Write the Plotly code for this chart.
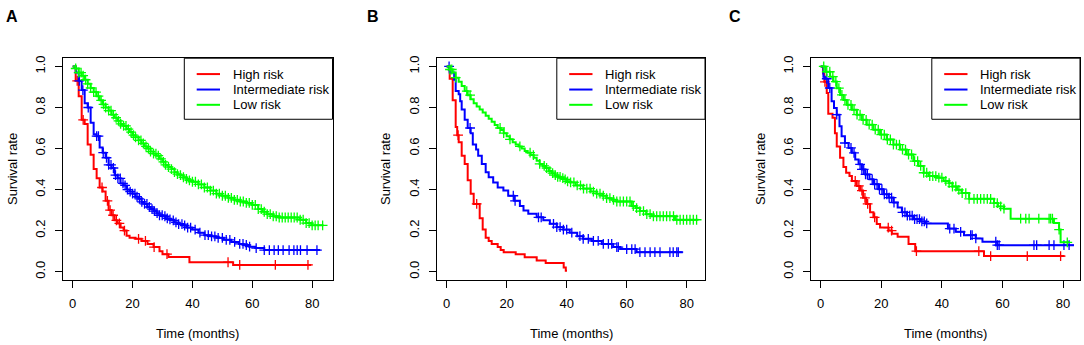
import bisect
import plotly.graph_objects as go

W, H = 1084, 345
FONT = "Liberation Sans, Arial, sans-serif"

panel_letters = ["A", "B", "C"]
series_names = ["High risk", "Intermediate risk", "Low risk"]
series_colors = ["#FF0000", "#0000FF", "#00FF00"]
x_ticks = [0, 20, 40, 60, 80]
y_ticks = [0.0, 0.2, 0.4, 0.6, 0.8, 1.0]
x_title = "Time (months)"
y_title = "Survival rate"

# ---------------- Panel A ----------------
A_high_t = [0, 1, 2, 3, 4, 5, 6, 7, 8, 9, 10, 11, 12, 13, 14, 15, 16, 17, 18, 19, 21, 23, 25, 27, 29, 30, 32, 39, 53.6, 79.7]
A_high_s = [1.0, 0.93, 0.855, 0.74, 0.72, 0.62, 0.57, 0.50, 0.455, 0.41, 0.39, 0.345, 0.30, 0.275, 0.25, 0.235, 0.215, 0.20, 0.175, 0.165, 0.16, 0.15, 0.135, 0.12, 0.10, 0.085, 0.071, 0.046, 0.033, 0.033]
A_high_c = [1.5, 3.5, 9.8, 11.6, 12.5, 13.5, 14.6, 15.6, 17.3, 22, 24.3, 27.2, 31.5, 51.9, 55.8, 67.7, 78.6]

A_mid_t = [0, 1, 2, 3, 4, 5, 6, 7, 8, 9, 10, 11, 12, 13, 14, 15, 16, 17, 18, 19, 20, 21, 22, 23, 24, 25, 26, 27, 28, 29, 30, 31, 32, 33, 34, 35, 37, 38, 40, 42, 44, 46, 48, 50.5, 53, 55.5, 57, 59, 61, 64, 82.7]
A_mid_s = [1.0, 0.97, 0.93, 0.885, 0.82, 0.80, 0.725, 0.67, 0.66, 0.605, 0.58, 0.555, 0.52, 0.505, 0.47, 0.455, 0.43, 0.42, 0.40, 0.39, 0.38, 0.365, 0.355, 0.34, 0.33, 0.315, 0.305, 0.295, 0.285, 0.275, 0.27, 0.26, 0.255, 0.25, 0.24, 0.232, 0.225, 0.215, 0.205, 0.19, 0.178, 0.172, 0.165, 0.155, 0.145, 0.135, 0.13, 0.122, 0.115, 0.105, 0.105]
A_mid_c = [2.2, 3.4, 5.2, 8.0, 8.6, 10.2, 11.3, 12.0, 12.8, 13.6, 14.3, 15.1, 15.9, 16.8, 17.5, 18.3, 19.2, 20.0, 20.8, 21.5, 22.3, 23.1, 24.0, 24.8, 25.6, 26.5, 27.3, 28.2, 29.0, 29.9, 30.8, 31.6, 32.5, 33.6, 34.5, 35.4, 36.5, 37.4, 38.4, 39.4, 40.9, 42.5, 44.2, 45.3, 46.4, 47.5, 48.6, 50.0, 51.3, 52.5, 54.1, 55.8, 56.9, 58.0, 59.1, 61.3, 64.0, 65.7, 67.3, 68.7, 70.3, 72.3, 73.9, 75.0, 76.1, 78.3, 81.6]

A_low_t = [0, 1, 2, 3, 4, 5, 6, 7, 8, 9, 10, 11, 12, 13, 14, 15, 16, 17, 18, 19, 20, 21, 22, 23, 24, 25, 26, 27, 28, 29, 30, 31, 32, 33, 34, 35, 36, 37, 38, 39, 40, 42, 44, 46, 48, 50, 52, 54, 56, 58, 60, 62, 63.5, 65, 67, 69, 76, 78, 79.7, 83.8]
A_low_s = [1.0, 0.99, 0.97, 0.955, 0.935, 0.915, 0.895, 0.875, 0.855, 0.835, 0.815, 0.80, 0.785, 0.765, 0.75, 0.735, 0.72, 0.71, 0.695, 0.68, 0.665, 0.655, 0.64, 0.625, 0.61, 0.60, 0.585, 0.575, 0.565, 0.55, 0.535, 0.52, 0.51, 0.50, 0.485, 0.475, 0.47, 0.46, 0.452, 0.445, 0.438, 0.425, 0.41, 0.395, 0.38, 0.37, 0.36, 0.35, 0.342, 0.335, 0.325, 0.305, 0.292, 0.28, 0.27, 0.264, 0.253, 0.237, 0.226, 0.226]
A_low_c = [1.0, 2.0, 2.8, 3.5, 4.3, 5.0, 6.0, 7.0, 7.8, 8.6, 9.5, 10.3, 11.0, 12.0, 12.8, 13.6, 14.5, 15.3, 16.0, 17.0, 17.8, 18.6, 19.5, 20.3, 21.0, 22.0, 22.8, 23.6, 24.5, 25.3, 26.0, 27.0, 27.8, 28.6, 29.5, 30.3, 31.0, 32.0, 33.0, 34.0, 35.0, 36.0, 37.0, 38.0, 39.0, 40.0, 41.0, 42.0, 43.0, 44.0, 45.0, 46.0, 47.0, 48.0, 49.0, 50.0, 51.0, 52.0, 53.0, 54.0, 55.0, 56.0, 57.0, 58.0, 59.0, 60.0, 61.0, 62.0, 63.0, 64.0, 65.0, 66.0, 67.0, 68.0, 69.0, 70.0, 71.0, 72.0, 73.0, 74.0, 75.0, 76.0, 77.0, 78.0, 79.0, 80.0, 81.0, 82.0, 83.5]

# ---------------- Panel B ----------------
B_high_t = [0, 1, 2, 3, 3.5, 4, 5, 6, 7, 8, 9, 11, 12, 13, 14, 15, 17, 18, 19, 23, 26, 30, 33, 39, 39.7, 40.1]
B_high_s = [1.0, 0.94, 0.835, 0.705, 0.665, 0.63, 0.565, 0.525, 0.445, 0.38, 0.33, 0.26, 0.205, 0.165, 0.15, 0.135, 0.12, 0.105, 0.095, 0.085, 0.07, 0.055, 0.042, 0.02, 0.005, 0.005]
B_high_c = [3.8, 10.0]

B_mid_t = [0, 1, 2.5, 3, 4, 4.5, 5, 6, 7, 8, 8.7, 9.8, 10.5, 11.7, 13, 14, 15.5, 17, 18.9, 20.5, 22.5, 24.4, 25.6, 27.2, 30, 32.2, 34.4, 36.7, 38.9, 41, 43.5, 45.5, 48.3, 51.7, 55.5, 57.8, 63.3, 78.7]
B_mid_s = [1.0, 0.97, 0.935, 0.88, 0.865, 0.83, 0.79, 0.74, 0.70, 0.675, 0.62, 0.595, 0.565, 0.525, 0.485, 0.46, 0.435, 0.41, 0.395, 0.37, 0.345, 0.32, 0.298, 0.282, 0.265, 0.25, 0.233, 0.217, 0.205, 0.19, 0.173, 0.16, 0.15, 0.135, 0.12, 0.11, 0.095, 0.095]
B_mid_c = [0.8, 7.8, 22.2, 22.8, 30.6, 31.5, 35.6, 36.7, 37.8, 38.9, 40.0, 41.7, 44.4, 45.5, 47.2, 48.9, 50.5, 52.2, 53.9, 55.0, 56.7, 57.2, 60.0, 61.7, 62.8, 64.4, 66.1, 67.8, 69.4, 71.1, 74.4, 75.5, 76.7, 77.2]

B_low_t = [0, 1, 2, 3, 4, 5, 6, 7, 8, 9, 10, 11, 12, 13, 14, 15, 16, 17, 18, 19, 20, 21, 22, 23, 24, 25, 26, 27, 28, 29, 30, 31, 32, 33, 34, 35, 36, 37, 38, 39, 40, 41.1, 43, 45.5, 48, 50, 52, 53.3, 55, 56.7, 61.7, 63, 64.4, 66.5, 68.3, 76.1, 83.9]
B_low_s = [1.0, 0.985, 0.97, 0.945, 0.925, 0.905, 0.88, 0.86, 0.84, 0.82, 0.805, 0.79, 0.775, 0.76, 0.745, 0.73, 0.715, 0.70, 0.69, 0.675, 0.66, 0.645, 0.63, 0.62, 0.61, 0.60, 0.588, 0.58, 0.568, 0.555, 0.54, 0.525, 0.515, 0.505, 0.49, 0.48, 0.47, 0.462, 0.456, 0.45, 0.44, 0.435, 0.42, 0.405, 0.39, 0.38, 0.37, 0.358, 0.35, 0.342, 0.32, 0.31, 0.295, 0.28, 0.27, 0.253, 0.253]
B_low_c = [1.1, 1.7, 3.0, 6.7, 7.8, 17.8, 19.0, 21.1, 24.4, 27.8, 28.9, 31.0, 32.5, 33.3, 34.4, 35.3, 36.2, 37.0, 37.8, 38.7, 39.5, 40.3, 41.3, 42.4, 43.5, 44.6, 45.6, 46.7, 47.8, 48.9, 50.0, 51.1, 52.2, 53.3, 54.4, 55.6, 56.7, 57.8, 58.9, 60.0, 61.1, 62.2, 63.3, 64.4, 65.6, 66.7, 67.8, 68.9, 70.0, 71.1, 72.2, 73.3, 74.4, 75.6, 76.7, 77.8, 78.9, 80.0, 81.1, 82.2, 83.3]

# ---------------- Panel C ----------------
C_high_t = [0, 0.8, 1.2, 2, 2.5, 3.9, 4.7, 5.3, 6.4, 7.5, 8.4, 9.5, 10.3, 11.9, 13, 14, 15, 16.3, 17.4, 18.5, 19.6, 22.4, 23.5, 25.4, 29, 31.2, 53.9, 80.5]
C_high_s = [1.0, 0.965, 0.925, 0.87, 0.77, 0.75, 0.675, 0.61, 0.555, 0.51, 0.482, 0.466, 0.442, 0.418, 0.395, 0.36, 0.33, 0.29, 0.265, 0.232, 0.215, 0.20, 0.185, 0.17, 0.135, 0.10, 0.076, 0.076]
C_high_c = [1.4, 11.4, 12.6, 13.6, 14.6, 15.5, 17.8, 22.3, 23.4, 31.6, 52.2, 56.1, 68.2, 79.2]

C_mid_t = [0, 0.9, 1.4, 2.5, 3.6, 4.4, 5.3, 6.2, 6.9, 8.0, 9.2, 10.3, 11.4, 12.5, 13.6, 14.7, 16.1, 17.4, 19.1, 20.7, 22.4, 24.0, 25.4, 26.8, 28.4, 30.6, 32.9, 34.5, 42.0, 44.6, 47.3, 51.2, 53.4, 58.3, 83.6]
C_mid_s = [1.0, 0.95, 0.94, 0.895, 0.83, 0.797, 0.765, 0.708, 0.66, 0.627, 0.603, 0.579, 0.547, 0.523, 0.498, 0.474, 0.45, 0.426, 0.402, 0.377, 0.361, 0.337, 0.313, 0.289, 0.273, 0.256, 0.245, 0.235, 0.21, 0.194, 0.178, 0.162, 0.146, 0.129, 0.129]
C_mid_c = [2.0, 3.0, 5.3, 8.0, 10.0, 11.0, 13.0, 13.6, 14.2, 14.8, 15.4, 17.0, 17.8, 18.6, 19.4, 20.2, 21.0, 21.8, 22.6, 23.4, 24.2, 27.0, 27.8, 28.6, 29.4, 30.2, 31.0, 31.8, 32.6, 33.4, 34.2, 35.0, 42.6, 44.0, 46.2, 49.5, 50.0, 51.2, 57.8, 58.3, 58.9, 70.4, 71.3, 75.4, 77.0, 80.3, 82.0]

C_low_t = [0, 1.6, 3.1, 4.2, 5.3, 6.4, 7.5, 8.6, 10.3, 11.9, 13.6, 15.2, 17.4, 19.6, 21.8, 24.0, 26.2, 28.4, 30.6, 32.3, 34.0, 35.6, 38.4, 40.6, 42.4, 43.5, 45.0, 46.5, 49.0, 57.2, 58.5, 60.5, 62.7, 77.0, 78.7, 79.2, 82.0]
C_low_s = [1.0, 0.974, 0.95, 0.926, 0.894, 0.861, 0.837, 0.813, 0.789, 0.765, 0.74, 0.716, 0.692, 0.668, 0.644, 0.619, 0.595, 0.571, 0.539, 0.515, 0.482, 0.466, 0.458, 0.442, 0.431, 0.415, 0.399, 0.383, 0.355, 0.334, 0.318, 0.307, 0.258, 0.237, 0.205, 0.143, 0.143]
C_low_c = [1.0, 2.0, 3.0, 4.0, 5.0, 6.0, 7.0, 8.0, 9.0, 10.0, 11.0, 12.0, 13.0, 14.0, 15.0, 16.0, 17.0, 18.0, 19.0, 20.0, 21.0, 22.0, 23.0, 24.0, 25.0, 26.0, 27.0, 28.0, 29.0, 30.0, 31.0, 32.0, 33.0, 34.0, 35.0, 36.0, 37.0, 38.0, 39.0, 40.0, 41.3, 42.4, 43.5, 44.6, 45.6, 46.7, 47.9, 49.0, 50.6, 51.7, 52.8, 53.9, 55.0, 56.1, 57.2, 58.3, 59.4, 60.5, 66.0, 67.7, 68.8, 72.0, 75.4, 75.9, 76.5, 78.7, 81.4]

panels = [
    [(A_high_t, A_high_s, A_high_c), (A_mid_t, A_mid_s, A_mid_c), (A_low_t, A_low_s, A_low_c)],
    [(B_high_t, B_high_s, B_high_c), (B_mid_t, B_mid_s, B_mid_c), (B_low_t, B_low_s, B_low_c)],
    [(C_high_t, C_high_s, C_high_c), (C_mid_t, C_mid_s, C_mid_c), (C_low_t, C_low_s, C_low_c)],
]

# ---------------- layout geometry (pixels) ----------------
box_left = [62.7, 437.0, 810.7]
box_right = [332.5, 705.0, 1080.0]
x_ranges = [[-3.34, 86.8], [-3.23, 86.1], [-3.3, 85.6]]
box_top, box_bottom = 55.7, 279.3
y_range = [-0.04, 1.04]
ytitle_x = [12, 385, 760]
letter_x = [12, 373, 735]


def px(p):
    return p / W


def py(p):
    return 1 - p / H


def step_value(ts, ss, t):
    i = bisect.bisect_right(ts, t) - 1
    return ss[max(i, 0)]


fig = go.Figure()
layout = dict(
    width=W, height=H, margin=dict(l=0, r=0, t=0, b=0),
    paper_bgcolor="white", plot_bgcolor="white", showlegend=False,
    font=dict(family=FONT, size=13, color="black"),
    shapes=[], annotations=[],
)

for p in range(3):
    sfx = "" if p == 0 else str(p + 1)
    xa, ya = "x" + sfx, "y" + sfx
    for k in range(3):
        ts, ss, cs = panels[p][k]
        col = series_colors[k]
        fig.add_trace(go.Scatter(
            x=ts, y=ss, mode="lines", line=dict(color=col, width=2, shape="hv"),
            xaxis=xa, yaxis=ya, hoverinfo="skip"))
        fig.add_trace(go.Scatter(
            x=cs, y=[step_value(ts, ss, c) for c in cs], mode="markers",
            marker=dict(symbol="cross-thin", size=7, color=col, line=dict(color=col, width=1.3)),
            xaxis=xa, yaxis=ya, hoverinfo="skip"))

    axis_common = dict(showline=True, linecolor="black", linewidth=1, mirror=True,
                       ticks="outside", ticklen=7, tickcolor="black", tickwidth=1,
                       showgrid=False, zeroline=False,
                       tickfont=dict(family=FONT, size=13, color="black"))
    layout["xaxis" + sfx] = dict(axis_common, domain=[px(box_left[p]), px(box_right[p])],
                                 range=x_ranges[p], tickvals=x_ticks, anchor=ya,
                                 ticklabelstandoff=5)
    layout["yaxis" + sfx] = dict(axis_common, domain=[py(box_bottom), py(box_top)],
                                 range=y_range, tickvals=y_ticks, tickformat=".1f",
                                 tickangle=-90, anchor=xa, ticklabelstandoff=5)

    # axis titles
    layout["annotations"].append(dict(
        x=px((box_left[p] + box_right[p]) / 2), y=py(333), xref="paper", yref="paper",
        text=x_title, showarrow=False, xanchor="center", yanchor="middle",
        font=dict(family=FONT, size=13, color="black")))
    layout["annotations"].append(dict(
        x=px(ytitle_x[p]), y=py((box_top + box_bottom) / 2), xref="paper", yref="paper",
        text=y_title, showarrow=False, textangle=-90, xanchor="center", yanchor="middle",
        font=dict(family=FONT, size=13, color="black")))
    # panel letter
    layout["annotations"].append(dict(
        x=px(letter_x[p]), y=py(13.5), xref="paper", yref="paper",
        text="<b>" + panel_letters[p] + "</b>", showarrow=False,
        xanchor="center", yanchor="middle",
        font=dict(family=FONT, size=16, color="black")))

    # legend box
    lg_left = box_right[p] - 148.2
    layout["shapes"].append(dict(
        type="rect", xref="paper", yref="paper",
        x0=px(lg_left), x1=px(box_right[p]), y0=py(117.3), y1=py(box_top),
        line=dict(color="black", width=1), fillcolor="white", layer="above"))
    for k, row_y in enumerate([71.7, 87.3, 102.7]):
        layout["shapes"].append(dict(
            type="line", xref="paper", yref="paper",
            x0=px(lg_left + 12.4), x1=px(lg_left + 35.7), y0=py(row_y), y1=py(row_y),
            line=dict(color=series_colors[k], width=2), layer="above"))
        layout["annotations"].append(dict(
            x=px(lg_left + 46.5), y=py(row_y), xref="paper", yref="paper",
            text=series_names[k], showarrow=False, xanchor="left", yanchor="middle",
            font=dict(family=FONT, size=13, color="black")))

fig.update_layout(**layout)
fig.write_html(
    "out.html",
    config={"displayModeBar": False},
    post_script="document.body.style.margin='0';document.body.style.padding='0';"
                "document.body.style.overflow='hidden';",
)
